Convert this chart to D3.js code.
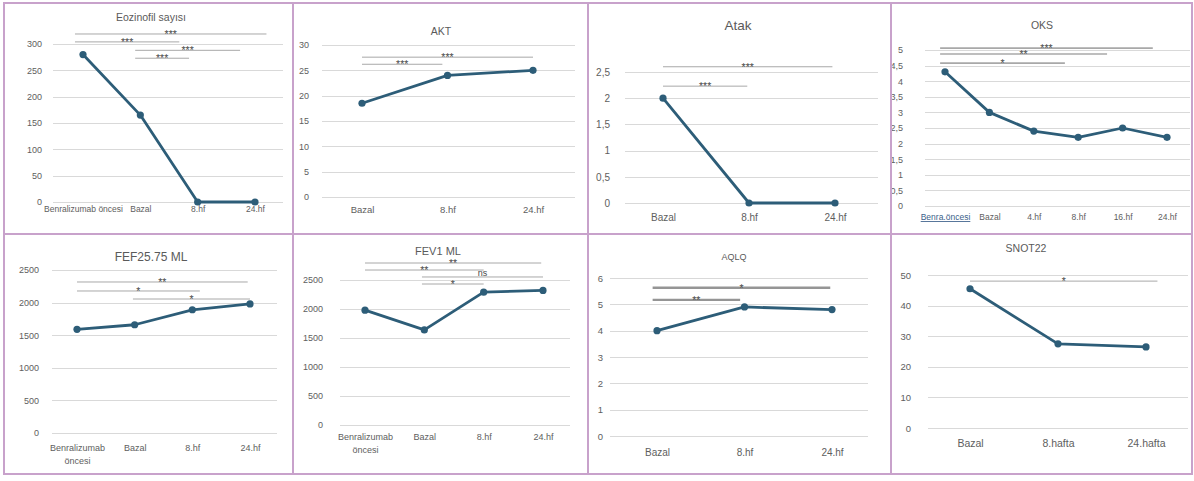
<!DOCTYPE html>
<html>
<head>
<meta charset="utf-8">
<script src="https://cdn.jsdelivr.net/npm/d3@7"></script>
<style>
  body { margin: 0; background: #fff; }
  svg { display: block; font-family: "Liberation Sans", Arial, sans-serif; }
</style>
</head>
<body>
<svg id="chart" width="1194" height="481"></svg>
<script>
// ---- Eozinofil sayısı ----
const eoCategories = ["Benralizumab öncesi", "Bazal", "8.hf", "24.hf"];
const eoValues = [280, 165, 0, 0];
const eoTicks = [0, 50, 100, 150, 200, 250, 300];
const eoBrackets = [
  { from: -0.14, to: 3.2, level: 319, label: "***" },
  { from: -0.14, to: 1.68, level: 304, label: "***" },
  { from: 0.91, to: 2.74, level: 288, label: "***" },
  { from: 0.91, to: 1.85, level: 273, label: "***" }
];

// ---- AKT ----
const aktCategories = ["Bazal", "8.hf", "24.hf"];
const aktValues = [18.5, 24, 25];
const aktTicks = [0, 5, 10, 15, 20, 25, 30];
const aktBrackets = [
  { from: 0, to: 2, level: 27.6, label: "***" },
  { from: 0, to: 0.94, level: 26.2, label: "***" }
];

// ---- Atak ----
const atakCategories = ["Bazal", "8.hf", "24.hf"];
const atakValues = [2, 0, 0];
const atakTicks = [0, 0.5, 1, 1.5, 2, 2.5];
const atakBrackets = [
  { from: 0, to: 1.97, level: 2.6, label: "***" },
  { from: 0, to: 0.98, level: 2.23, label: "***" }
];

// ---- OKS ----
const oksCategories = ["Benra.öncesi", "Bazal", "4.hf", "8.hf", "16.hf", "24.hf"];
const oksValues = [4.3, 3.0, 2.4, 2.2, 2.5, 2.2];
const oksTicks = [0, 0.5, 1, 1.5, 2, 2.5, 3, 3.5, 4, 4.5, 5];
const oksBrackets = [
  { from: -0.11, to: 4.68, level: 5.06, label: "***" },
  { from: -0.11, to: 3.65, level: 4.87, label: "**" },
  { from: -0.11, to: 2.7, level: 4.58, label: "*" }
];

// ---- FEF25.75 ML ----
const fefCategories = ["Benralizumab öncesi", "Bazal", "8.hf", "24.hf"];
const fefValues = [1590, 1660, 1890, 1980];
const fefTicks = [0, 500, 1000, 1500, 2000, 2500];
const fefBrackets = [
  { from: 0, to: 2.96, level: 2316, label: "**" },
  { from: 0, to: 2.13, level: 2178, label: "*" },
  { from: 0.97, to: 3, level: 2055, label: "*" }
];

// ---- FEV1 ML ----
const fevCategories = ["Benralizumab öncesi", "Bazal", "8.hf", "24.hf"];
const fevValues = [1980, 1640, 2290, 2320];
const fevTicks = [0, 500, 1000, 1500, 2000, 2500];
const fevBrackets = [
  { from: 0, to: 2.97, level: 2793, label: "**" },
  { from: 0, to: 2.0, level: 2672, label: "**" },
  { from: 0.96, to: 3, level: 2552, label: "ns" },
  { from: 0.96, to: 2.0, level: 2431, label: "*" }
];

// ---- AQLQ ----
const aqlqCategories = ["Bazal", "8.hf", "24.hf"];
const aqlqValues = [4.0, 4.9, 4.8];
const aqlqTicks = [0, 1, 2, 3, 4, 5, 6];
const aqlqBrackets = [
  { from: -0.05, to: 1.98, level: 5.63, label: "*" },
  { from: -0.05, to: 0.95, level: 5.17, label: "**" }
];

// ---- SNOT22 ----
const snotCategories = ["Bazal", "8.hafta", "24.hafta"];
const snotValues = [45.5, 27.5, 26.5];
const snotTicks = [0, 10, 20, 30, 40, 50];
const snotBrackets = [
  { from: 0, to: 2.13, level: 48, label: "*" }
];

const svg = d3.select("#chart");
const LINE = "#2d5d78";
const TEXT = "#5e5e5e";
const GRID = "#d9d9d9";
const fmtComma = d => String(d).replace(".", ",");

const panels = [
  { title: "Eozinofil sayısı", cats: eoCategories, vals: eoValues, ticks: eoTicks, br: eoBrackets,
    xr: [83, 255], yr: [202, 44], grid: [53, 283], tickRight: 42, titleAt: [151, 21], titleSize: 10.5,
    xLabelY: 215, labelSize: 8.5, tickSize: 9 },
  { title: "AKT", cats: aktCategories, vals: aktValues, ticks: aktTicks, br: aktBrackets,
    xr: [362, 533], yr: [197, 45], grid: [322, 575], tickRight: 309, titleAt: [441, 35], titleSize: 10.5,
    xLabelY: 215, labelSize: 9.5, tickSize: 9 },
  { title: "Atak", cats: atakCategories, vals: atakValues, ticks: atakTicks, br: atakBrackets, fmt: fmtComma,
    xr: [663, 835], yr: [203, 72], grid: [625, 878], tickRight: 610, titleAt: [738, 30], titleSize: 13.5,
    xLabelY: 223, labelSize: 10, tickSize: 10 },
  { title: "OKS", cats: oksCategories, vals: oksValues, ticks: oksTicks, br: oksBrackets, fmt: fmtComma,
    xr: [945, 1167], yr: [206, 50], grid: [925, 1190], tickRight: 903, titleAt: [1042, 29], titleSize: 10.5,
    xLabelY: 223, labelSize: 8.5, tickSize: 9, brWidth: 1.6, firstLink: true },
  { title: "FEF25.75 ML", cats: fefCategories, vals: fefValues, ticks: fefTicks, br: fefBrackets, wrap: true,
    xr: [77, 250], yr: [433, 270], grid: [52, 277], tickRight: 39, titleAt: [151, 261], titleSize: 12,
    xLabelY: 454, labelSize: 9, tickSize: 9 },
  { title: "FEV1 ML", cats: fevCategories, vals: fevValues, ticks: fevTicks, br: fevBrackets, wrap: true,
    xr: [365, 543], yr: [425, 280], grid: [340, 570], tickRight: 323, titleAt: [438, 255], titleSize: 11,
    xLabelY: 443, labelSize: 9, tickSize: 9 },
  { title: "AQLQ", cats: aqlqCategories, vals: aqlqValues, ticks: aqlqTicks, br: aqlqBrackets,
    xr: [657, 832], yr: [436, 278], grid: [610, 868], tickRight: 603, titleAt: [734, 260], titleSize: 9,
    xLabelY: 458, labelSize: 10, tickSize: 9.5, brWidth: 2.4, brColor: "#959595" },
  { title: "SNOT22", cats: snotCategories, vals: snotValues, ticks: snotTicks, br: snotBrackets,
    xr: [970, 1146], yr: [428, 275], grid: [928, 1188], tickRight: 911, titleAt: [1026, 252], titleSize: 10.5,
    xLabelY: 449, labelSize: 10.5, tickSize: 9.5 }
];

panels.forEach(p => {
  const g = svg.append("g");
  const n = p.cats.length;
  const x = d3.scaleLinear().domain([0, n - 1]).range(p.xr);
  const xBand = d3.scalePoint().domain(p.cats).range(p.xr);
  const y = d3.scaleLinear().domain([0, p.ticks[p.ticks.length - 1]]).range(p.yr);

  // horizontal gridlines
  g.selectAll("line.grid").data(p.ticks).join("line")
    .attr("class", "grid")
    .attr("x1", p.grid[0]).attr("x2", p.grid[1])
    .attr("y1", d => Math.round(y(d)) + 0.5).attr("y2", d => Math.round(y(d)) + 0.5)
    .attr("stroke", GRID).attr("stroke-width", 1);

  // value axis labels
  const ya = g.append("g").attr("transform", `translate(${p.tickRight},0)`)
    .call(d3.axisLeft(y).tickValues(p.ticks).tickSize(0).tickPadding(0)
      .tickFormat(p.fmt || (d => d)));
  ya.select(".domain").remove();
  ya.selectAll("text").attr("fill", TEXT).attr("font-size", p.tickSize)
    .attr("font-family", "Liberation Sans, Arial, sans-serif");

  // category labels
  const xa = g.append("g").attr("transform", `translate(0,${p.xLabelY - 9})`)
    .call(d3.axisBottom(xBand).tickSize(0).tickPadding(0));
  xa.select(".domain").remove();
  xa.selectAll("text").attr("fill", TEXT).attr("font-size", p.labelSize)
    .attr("font-family", "Liberation Sans, Arial, sans-serif");
  if (p.wrap) {
    xa.selectAll("text").each(function (d) {
      const words = d.split(" ");
      if (words.length < 2) return;
      const t = d3.select(this).text(null);
      words.forEach((w, i) => t.append("tspan").attr("x", 0).attr("dy", i === 0 ? "0.71em" : "1.45em").text(w));
      t.attr("dy", null);
    });
  }
  if (p.firstLink) {
    xa.selectAll("text").filter((d, i) => i === 0)
      .attr("fill", "#3b5f8a").attr("text-decoration", "underline");
  }

  // significance brackets
  const bw = p.brWidth || 1;
  const bc = p.brColor || "#a8a8a8";
  g.selectAll("line.br").data(p.br).join("line")
    .attr("class", "br")
    .attr("x1", d => x(d.from)).attr("x2", d => x(d.to))
    .attr("y1", d => y(d.level)).attr("y2", d => y(d.level))
    .attr("stroke", bc).attr("stroke-width", bw);
  g.selectAll("text.brl").data(p.br).join("text")
    .attr("class", "brl")
    .attr("x", d => (x(d.from) + x(d.to)) / 2)
    .attr("y", d => y(d.level) + (d.label === "ns" ? -1 : 4))
    .attr("text-anchor", "middle")
    .attr("font-size", d => d.label === "ns" ? 9 : 10.5).attr("fill", "#4a4a4a")
    .text(d => d.label);

  // series line and markers
  const line = d3.line().x((d, i) => x(i)).y(d => y(d));
  g.append("path").datum(p.vals)
    .attr("d", line).attr("fill", "none")
    .attr("stroke", LINE).attr("stroke-width", 2.8).attr("stroke-linejoin", "round");
  g.selectAll("circle.pt").data(p.vals).join("circle")
    .attr("class", "pt")
    .attr("cx", (d, i) => x(i)).attr("cy", d => y(d)).attr("r", 3.6)
    .attr("fill", LINE);

  // title
  g.append("text")
    .attr("x", p.titleAt[0]).attr("y", p.titleAt[1])
    .attr("text-anchor", "middle").attr("font-size", p.titleSize)
    .attr("fill", "#5a5a5a").text(p.title);
});

// panel frames
const frame = svg.append("g").attr("fill", "none").attr("stroke", "#c8a2cb").attr("stroke-width", 2);
frame.append("rect").attr("x", 4).attr("y", 3).attr("width", 1188).attr("height", 471);
[293, 588, 891].forEach(v => frame.append("line").attr("x1", v).attr("x2", v).attr("y1", 3).attr("y2", 474));
frame.append("line").attr("x1", 4).attr("x2", 1192).attr("y1", 234).attr("y2", 234);
</script>
</body>
</html>
